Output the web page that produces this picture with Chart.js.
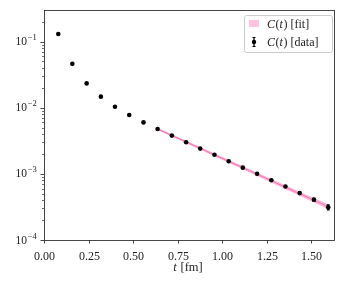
<!DOCTYPE html>
<html><head><meta charset="utf-8">
<script src="https://cdn.jsdelivr.net/npm/chart.js@4/dist/chart.umd.min.js"></script>
<style>html,body{margin:0;padding:0;background:#fff;}canvas{display:block;}</style>
</head><body>
<canvas id="c" width="345" height="289"></canvas>
<script>
// ---- data ----
const tData = [0.080,0.159,0.239,0.319,0.398,0.478,0.558,0.637,0.717,0.797,0.876,0.956,1.036,1.115,1.195,1.275,1.354,1.434,1.514,1.594];
const cData = [0.130,0.0460,0.0233,0.0147,0.01035,0.00776,0.0060,0.00477,0.00379,0.00300,0.00241,0.00194,0.00155,0.00124,0.00100,0.00080,0.000645,0.000512,0.000407,0.000313];
const cErr  = [0.002,0.0006,0.0003,0.0002,0.00012,0.00009,0.00007,0.00006,0.00005,0.00004,0.00003,0.00003,0.000025,0.00002,0.000018,0.000016,0.000015,0.000018,0.000022,0.000028];
const tFit     = [0.637,0.717,0.797,0.876,0.956,1.036,1.115,1.195,1.275,1.354,1.434,1.514,1.594];
const fitMid   = [0.00478,0.00381,0.00304,0.00243,0.00194,0.00155,0.00124,0.000986,0.000787,0.000628,0.000501,0.000400,0.000319];
const fitLow   = [0.00466,0.00371,0.00295,0.00235,0.00187,0.00149,0.00119,0.000943,0.000750,0.000596,0.000473,0.000376,0.000297];
const fitHigh  = [0.00490,0.00391,0.00313,0.00251,0.00201,0.00161,0.00129,0.001029,0.000824,0.000660,0.000529,0.000424,0.000341];
const xTicks = [0.00,0.25,0.50,0.75,1.00,1.25,1.50];
const xTickLabels = ["0.00","0.25","0.50","0.75","1.00","1.25","1.50"];
const yMajor = [1e-4,1e-3,1e-2,1e-1];
const yMajorExp = ["\u22124","\u22123","\u22122","\u22121"];
const legendLabels = [["C","(","t",")"," [fit]"],["C","(","t",")"," [data]"]];

const pts = (xs, ys) => xs.map((x,i)=>({x:x, y:ys[i]}));
const SERIF = '"Liberation Serif", "DejaVu Serif", serif';
const TXT = '#222';

function richText(ctx, parts, x, y, size){
  let cx = x;
  parts.forEach(p=>{
    const ital = (p === 'C' || p === 't');
    ctx.font = (ital ? 'italic ' : '') + size + 'px ' + SERIF;
    ctx.fillText(p, cx, y);
    cx += ctx.measureText(p).width + (ital ? 0.6 : 0);
  });
  return cx - x;
}
function richWidth(ctx, parts, size){
  let w = 0;
  parts.forEach(p=>{
    const ital = (p === 'C' || p === 't');
    ctx.font = (ital ? 'italic ' : '') + size + 'px ' + SERIF;
    w += ctx.measureText(p).width + (ital ? 0.6 : 0);
  });
  return w;
}

const decor = {
  id: 'decor',
  beforeDatasetDraw(chart, args){
    if (args.index !== 0) return;
    const ctx = chart.ctx, xs = chart.scales.x, ys = chart.scales.y;
    ctx.save();
    ctx.strokeStyle = '#000'; ctx.lineWidth = 1.2;
    tData.forEach((t,i)=>{
      const px = xs.getPixelForValue(t);
      const y1 = ys.getPixelForValue(cData[i]-cErr[i]);
      const y2 = ys.getPixelForValue(cData[i]+cErr[i]);
      ctx.beginPath(); ctx.moveTo(px,y1); ctx.lineTo(px,y2); ctx.stroke();
      if (Math.abs(y1-y2) > 3){
        ctx.beginPath(); ctx.moveTo(px-1.5,y1); ctx.lineTo(px+1.5,y1);
        ctx.moveTo(px-1.5,y2); ctx.lineTo(px+1.5,y2); ctx.stroke();
      }
    });
    ctx.restore();
  },
  afterDraw(chart){
    const ctx = chart.ctx, a = chart.chartArea, xs = chart.scales.x, ys = chart.scales.y;
    ctx.save();
    // frame
    ctx.strokeStyle = '#333'; ctx.lineWidth = 0.9;
    ctx.strokeRect(a.left+0.5, a.top+0.5, a.right-a.left-1, a.bottom-a.top);
    // x ticks
    ctx.fillStyle = TXT; ctx.textAlign = 'center'; ctx.textBaseline = 'alphabetic';
    ctx.font = '12px ' + SERIF;
    xTicks.forEach((v,i)=>{
      const px = Math.round(xs.getPixelForValue(v)) + 0.5;
      ctx.beginPath(); ctx.moveTo(px, a.bottom); ctx.lineTo(px, a.bottom+3.5); ctx.stroke();
      ctx.fillText(xTickLabels[i], px, 259.5);
    });
    // y ticks (major + minor)
    for (let e=-4; e<=-1; e++){
      for (let m=1; m<=9; m++){
        const v = m*Math.pow(10,e);
        if (v < ys.min || v > ys.max) continue;
        const py = Math.round(ys.getPixelForValue(v)) + 0.5;
        const len = (m===1) ? 3.5 : 2;
        ctx.lineWidth = (m===1) ? 0.9 : 0.7;
        ctx.beginPath(); ctx.moveTo(a.left, py); ctx.lineTo(a.left-len, py); ctx.stroke();
      }
    }
    ctx.textAlign = 'left'; ctx.textBaseline = 'alphabetic';
    yMajor.forEach((v,i)=>{
      const py = ys.getPixelForValue(v);
      ctx.font = '8.5px ' + SERIF;
      const ew = ctx.measureText(yMajorExp[i]).width;
      ctx.font = '11.5px ' + SERIF;
      const bw = ctx.measureText('10').width;
      const x0 = a.left - 8 - ew - bw;
      ctx.fillText('10', x0, py + 3.5);
      ctx.font = '8.5px ' + SERIF;
      ctx.fillText(yMajorExp[i], x0 + bw + 0.8, py - 1.5);
    });
    // x axis title
    const title = ['t',' [fm]'];
    const tw = richWidth(ctx, title, 12.5);
    richText(ctx, title, 188 - tw/2, 271, 12.5);
    // legend
    const lx = 244.5, ly = 15.5, lw = 88, lh = 37;
    ctx.fillStyle = 'rgba(255,255,255,0.85)';
    ctx.strokeStyle = '#ccc'; ctx.lineWidth = 1;
    ctx.beginPath();
    if (ctx.roundRect) ctx.roundRect(lx, ly, lw, lh, 2); else ctx.rect(lx, ly, lw, lh);
    ctx.fill(); ctx.stroke();
    ctx.fillStyle = 'rgba(255,105,180,0.4)';
    ctx.fillRect(249, 20, 10, 7);
    // data marker in legend
    ctx.strokeStyle = '#000'; ctx.lineWidth = 1.2;
    ctx.beginPath(); ctx.moveTo(254, 37.5); ctx.lineTo(254, 46.5);
    ctx.moveTo(252.5, 37.5); ctx.lineTo(255.5, 37.5);
    ctx.moveTo(252.5, 46.5); ctx.lineTo(255.5, 46.5); ctx.stroke();
    ctx.fillStyle = '#000';
    ctx.beginPath(); ctx.arc(254, 42, 2.2, 0, Math.PI*2); ctx.fill();
    ctx.fillStyle = TXT;
    richText(ctx, legendLabels[0], 267, 28, 12);
    richText(ctx, legendLabels[1], 267, 46, 12);
    ctx.restore();
  }
};

new Chart(document.getElementById('c'), {
  type: 'line',
  data: {
    datasets: [
      { label: 'C(t) [data]', data: pts(tData, cData), showLine: false,
        pointRadius: 2.3, pointBackgroundColor: '#000', pointBorderWidth: 0, pointBorderColor: '#000' },
      { label: 'fit', data: pts(tFit, fitMid), borderColor: 'rgba(235,95,160,0.75)', borderWidth: 1,
        pointRadius: 0, fill: false, tension: 0 },
      { label: 'fitLow', data: pts(tFit, fitLow), borderColor: 'rgba(255,105,180,0.45)', borderWidth: 0.8,
        pointRadius: 0, fill: false, tension: 0 },
      { label: 'C(t) [fit]', data: pts(tFit, fitHigh), borderColor: 'rgba(255,105,180,0.45)', borderWidth: 0.8,
        pointRadius: 0, fill: '-1', backgroundColor: 'rgba(255,105,180,0.45)', tension: 0 }
    ]
  },
  options: {
    responsive: false, animation: false, devicePixelRatio: 1,
    layout: { padding: { left: 44, right: 10, top: 10, bottom: 49 } },
    plugins: { legend: { display: false }, tooltip: { enabled: false } },
    scales: {
      x: { type: 'linear', min: 0, max: 1.632, display: false },
      y: { type: 'logarithmic', min: 1e-4, max: 0.30, display: false }
    }
  },
  plugins: [decor]
});
</script>
</body></html>
